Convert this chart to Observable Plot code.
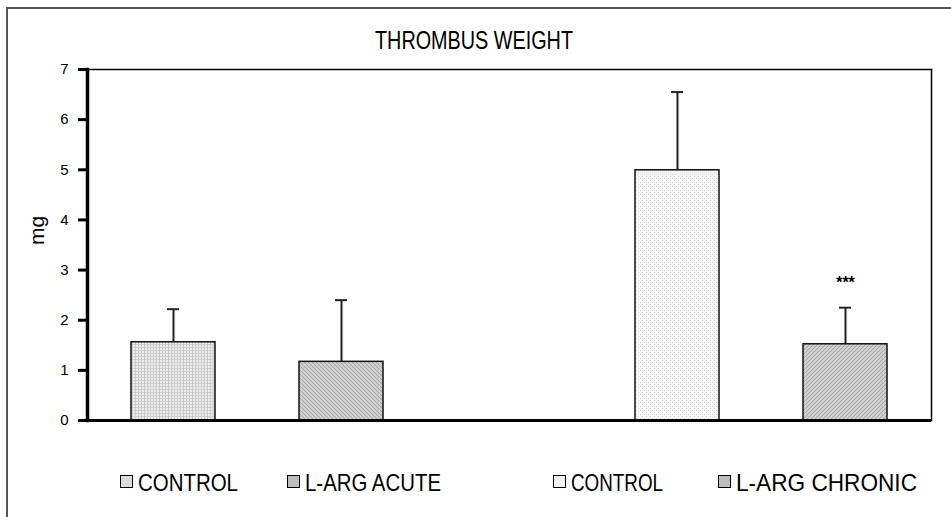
<!DOCTYPE html>
<html>
<head>
<meta charset="utf-8">
<script src="https://cdn.jsdelivr.net/npm/d3@7"></script>
<script src="https://cdn.jsdelivr.net/npm/@observablehq/plot@0.6"></script>
<style>
  html, body { margin: 0; padding: 0; background: #fff; }
  #wrap { position: relative; width: 951px; height: 517px; overflow: hidden; font-family: "Liberation Sans", Arial, sans-serif; }
  #frame { position: absolute; left: 6px; top: 7px; width: 960px; height: 520px; border-top: 2px solid #555; border-left: 2px solid #555; box-sizing: border-box; }
  #title { position: absolute; left: 375px; top: 26px; white-space: nowrap; font-size: 25px; color: #000; transform-origin: 0 0; }
  #chart { position: absolute; left: 0; top: 50px; }
  #legend { position: absolute; top: 469px; left: 0; width: 951px; height: 30px; font-size: 24px; color: #000; }
  .sw { position: absolute; top: 6px; width: 11px; height: 11px; border: 1px solid #000; }
  .lt { position: absolute; top: 0; white-space: nowrap; transform-origin: 0 0; }
  g[aria-label="y-axis tick"] path { stroke-width: 3px !important; stroke: #000 !important; }
</style>
</head>
<body>
<div id="wrap">
  <div id="frame"></div>
  <div id="title">THROMBUS WEIGHT</div>
  <div id="chart"></div>
  <div id="legend"></div>
</div>
<script>
// Data
const slots = ["CONTROL A", "L-ARG ACUTE", "gap", "CONTROL B", "L-ARG CHRONIC"];
const groups = ["CONTROL A", "L-ARG ACUTE", "CONTROL B", "L-ARG CHRONIC"];
const legendLabels = ["CONTROL", "L-ARG ACUTE", "CONTROL", "L-ARG CHRONIC"];
const means = [1.56, 1.17, 4.99, 1.52];
const errors = [0.66, 1.23, 1.56, 0.73];
const marks = ["", "", "", "***"];
const patterns = ["pDots", "pHatchA", "pLight", "pHatchB"];
const yTicks = [0, 1, 2, 3, 4, 5, 6, 7];

const data = groups.map((g, i) => ({
  group: g, label: legendLabels[i], mean: means[i], err: errors[i],
  top: means[i] + errors[i], mark: marks[i], fill: `url(#${patterns[i]})`
}));

const font = '"Liberation Sans", Arial, sans-serif';

const plot = Plot.plot({
  width: 951,
  height: 390,
  marginTop: 19,
  marginLeft: 87,
  marginRight: 20,
  marginBottom: 20,
  style: { fontFamily: font, fontSize: "15px", color: "#000", background: "transparent" },
  x: { domain: slots, paddingInner: 0.5, paddingOuter: 0.25, axis: null },
  y: { domain: [0, 7], ticks: yTicks, label: null },
  color: { type: "identity" },
  marks: [
    Plot.ruleX(data, { x: "group", y1: "mean", y2: "top", stroke: "#222", strokeWidth: 2 }),
    Plot.tickY(data, { x: "group", y: "top", stroke: "#222", strokeWidth: 2, insetLeft: 36, insetRight: 36 }),
    Plot.barY(data, { x: "group", y: "mean", fill: "fill", stroke: "#111", strokeWidth: 1.5 }),
    Plot.text(data, { x: "group", y: "top", text: "mark", dy: -25, fontSize: 16, fontWeight: "bold", fill: "#000" }),
    Plot.frame({ anchor: "top", stroke: "#000", strokeWidth: 1.5 }),
    Plot.frame({ anchor: "right", stroke: "#000", strokeWidth: 1.5 }),
    Plot.frame({ anchor: "left", stroke: "#000", strokeWidth: 3.5 }),
    Plot.ruleY([0], { stroke: "#000", strokeWidth: 3 }),
    Plot.axisY({ ticks: yTicks, tickFormat: d => String(d), tickSize: 9, tickPadding: 10, fontSize: 15, label: null }),
    Plot.text(["mg"], { frameAnchor: "left", dx: -50, rotate: -90, fontSize: 21, fill: "#000" })
  ]
});

// SVG patterns for the bar fills
const defs = `
<defs>
  <pattern id="pDots" width="3" height="3" patternUnits="userSpaceOnUse">
    <rect width="3" height="3" fill="#ececec"/>
    <rect width="1" height="3" fill="#c8c8c8"/>
    <rect width="3" height="1" fill="#cfcfcf"/>
  </pattern>
  <pattern id="pLight" width="4" height="4" patternUnits="userSpaceOnUse">
    <rect width="4" height="4" fill="#f6f6f6"/>
    <rect x="0" y="0" width="1" height="1" fill="#d8d8d8"/>
    <rect x="2" y="2" width="1" height="1" fill="#d8d8d8"/>
    <rect x="2" y="0" width="1" height="1" fill="#e4e4e4"/>
  </pattern>
  <pattern id="pHatchA" width="4" height="4" patternUnits="userSpaceOnUse">
    <rect width="4" height="4" fill="#cdcdcd"/>
    <path d="M-1,-1 L5,5 M-1,3 L1,5 M3,-1 L5,1" stroke="#a9a9a9" stroke-width="1"/>
  </pattern>
  <pattern id="pHatchB" width="4" height="4" patternUnits="userSpaceOnUse">
    <rect width="4" height="4" fill="#cdcdcd"/>
    <path d="M-1,5 L5,-1 M-1,1 L1,-1 M3,5 L5,3" stroke="#a9a9a9" stroke-width="1"/>
  </pattern>
</defs>`;
plot.insertAdjacentHTML("afterbegin", defs);
document.getElementById("chart").appendChild(plot);
plot.querySelectorAll('g[aria-label="y-axis tick"]').forEach(g => {
  g.setAttribute("stroke-width", "3");
  g.setAttribute("stroke", "#000");
  g.querySelectorAll("path, line").forEach(p => p.setAttribute("stroke-width", "3"));
});

// Title, narrowed to the reference width
const title = document.getElementById("title");
title.style.transform = `scaleX(${198 / title.getBoundingClientRect().width})`;

// Legend (HTML, below the SVG)
const legendSwX = [120, 287, 553, 718];
const legendTextX = [138, 305, 571, 736];
const legendTextW = [100, 136, 92, 181];
const legendFill = ["#dcdcdc", "#bdbdbd", "#f2f2f2", "#bdbdbd"];
const legend = document.getElementById("legend");
data.forEach((d, i) => {
  const sw = document.createElement("div");
  sw.className = "sw";
  sw.style.left = legendSwX[i] + "px";
  sw.style.background = legendFill[i];
  legend.appendChild(sw);
  const t = document.createElement("span");
  t.className = "lt";
  t.textContent = d.label;
  t.style.left = legendTextX[i] + "px";
  legend.appendChild(t);
  const w = t.getBoundingClientRect().width;
  t.style.transform = `scaleX(${legendTextW[i] / w})`;
});
</script>
</body>
</html>
